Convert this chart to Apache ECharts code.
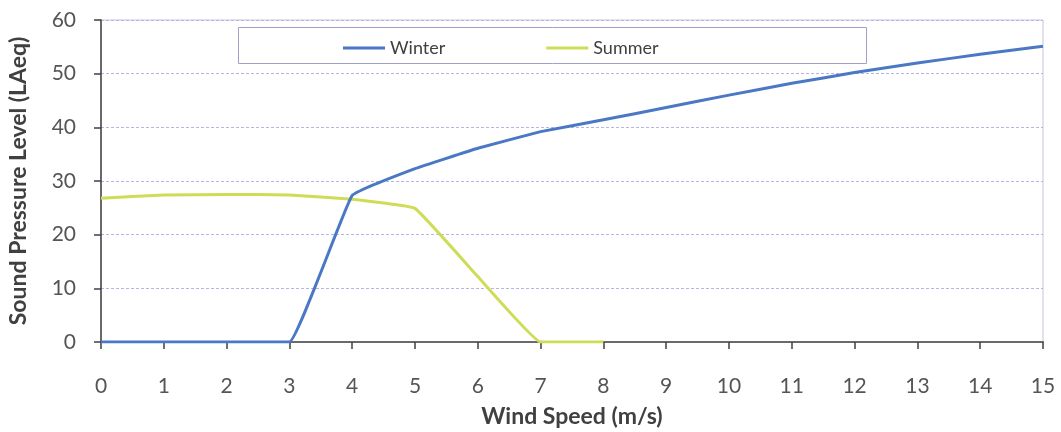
<!DOCTYPE html>
<html>
<head>
<meta charset="utf-8">
<script src="https://cdn.jsdelivr.net/npm/echarts@6/dist/echarts.min.js"></script>
<style>
html,body{margin:0;padding:0;background:#fff;}
#chart{width:1061px;height:432px;}
</style>
</head>
<body>
<div id="chart"></div>
<script>
var windSpeed = [0,1,2,3,4,5,6,7,8,9,10,11,12,13,14,15];
var winter = [0,0,0,0,27.3,32.3,36.1,39.2,41.4,43.7,46.0,48.2,50.2,52.0,53.6,55.1];
var summer = [26.8,27.4,27.5,27.4,26.6,24.9,12.2,0,0];
var yTicks = [0,10,20,30,40,50,60];

function pairs(xs, ys){ return ys.map(function(v,i){ return [xs[i], v]; }); }

var FONT = 'Lato, "Liberation Sans", sans-serif';
var chart = echarts.init(document.getElementById('chart'), null, {renderer:'canvas'});
chart.setOption({
  animation:false,
  backgroundColor:'#fff',
  grid:{left:101,right:18,top:20,bottom:90,outerBoundsMode:'none',containLabel:false,
    show:true,borderColor:'#c4c4e0',borderWidth:1,backgroundColor:'transparent'},
  graphic:[{type:'rect',left:238,top:27,shape:{width:628,height:36},style:{fill:'#fff',stroke:'#a0a0c8',lineWidth:1},z:50}],
  legend:{left:338,top:34,icon:'rect',itemWidth:42,itemHeight:3,itemGap:101,z:60,
    textStyle:{fontFamily:FONT,fontSize:18,color:'#404040'},
    data:['Winter','Summer']},
  xAxis:{type:'value',min:0,max:15,interval:1,
    name:'Wind Speed (m/s)',nameLocation:'middle',nameGap:63,
    nameTextStyle:{fontFamily:FONT,fontSize:23,fontWeight:'bold',color:'#404040'},
    axisLine:{onZero:false,lineStyle:{color:'#6a6a6a',width:2}},
    axisTick:{show:true,length:7,lineStyle:{color:'#404040',width:1.5}},
    axisLabel:{margin:34,fontFamily:FONT,fontSize:21,color:'#555'},
    splitLine:{show:false}},
  yAxis:{type:'value',min:0,max:60,interval:10,
    name:'Sound Pressure Level (LAeq)',nameLocation:'middle',nameGap:71,
    nameTextStyle:{fontFamily:FONT,fontSize:23,fontWeight:'bold',color:'#404040'},
    axisLine:{show:true,lineStyle:{color:'#404040',width:1.5}},
    axisTick:{show:true,length:7,lineStyle:{color:'#404040',width:1.5}},
    axisLabel:{margin:25,fontFamily:FONT,fontSize:21,color:'#555',
      formatter:function(v){ return yTicks.indexOf(v)>=0 ? String(v) : ''; }},
    splitLine:{show:true,lineStyle:{color:'#b4b4e6',width:1,type:[3,2]}}},
  series:[
    {name:'Winter',type:'line',data:pairs(windSpeed,winter),smooth:0.08,showSymbol:false,symbol:'none',
      lineStyle:{color:'#4a78c4',width:3},itemStyle:{color:'#4a78c4'},z:4},
    {name:'Summer',type:'line',data:pairs(windSpeed,summer),smooth:0.08,showSymbol:false,symbol:'none',
      lineStyle:{color:'#cfdc58',width:3},itemStyle:{color:'#cfdc58'},z:3}
  ]
});
</script>
</body>
</html>
